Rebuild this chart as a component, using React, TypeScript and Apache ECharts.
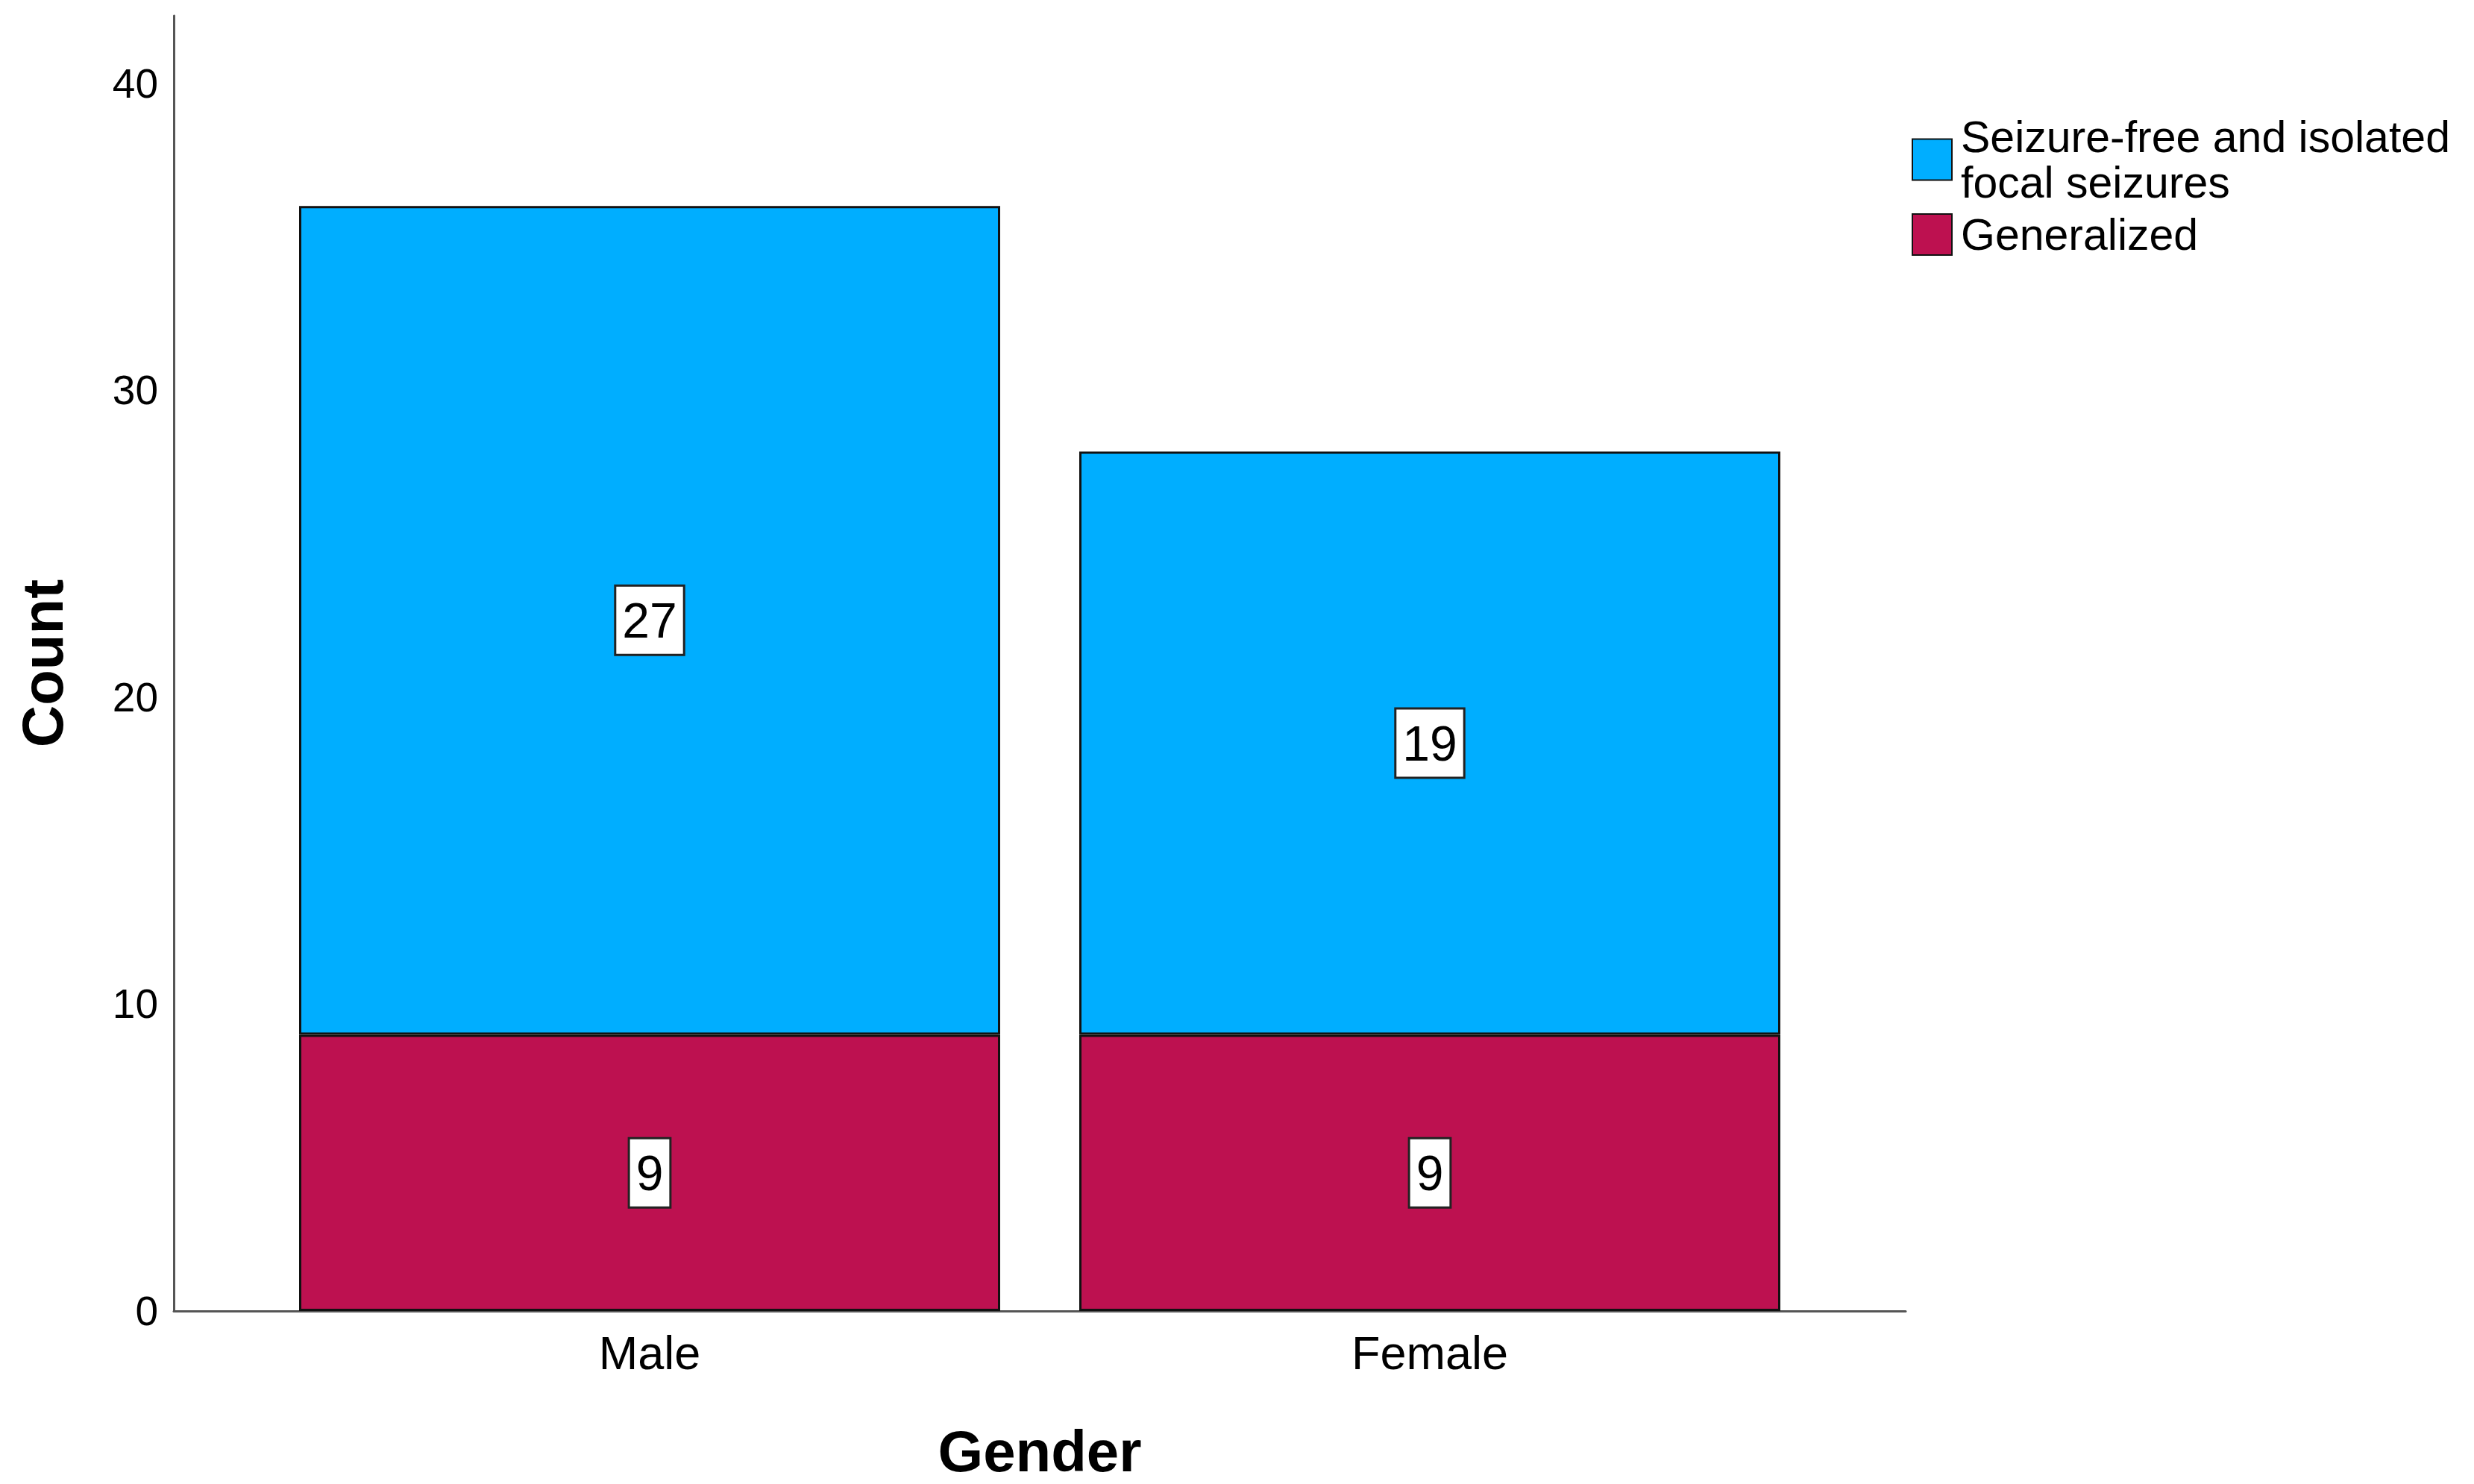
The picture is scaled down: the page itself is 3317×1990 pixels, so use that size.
import React, { useEffect, useRef } from "react";
import * as echarts from "echarts";

const categories = ["Male", "Female"];
const generalized = [9, 9];
const seizureFree = [27, 19];
const seriesNames = ["Seizure-free and isolated\nfocal seizures", "Generalized"];
const yTicks = [0, 10, 20, 30, 40];

export default function App() {
  const ref = useRef<HTMLDivElement>(null);
  useEffect(() => {
    const chart = echarts.init(ref.current!, null, { renderer: "svg" });
    const font = "'Liberation Sans', Arial, sans-serif";
    const labelStyle = {
      show: true,
      position: "inside",
      color: "#000",
      fontFamily: font,
      fontSize: 66,
      lineHeight: 68,
      backgroundColor: "#fff",
      borderColor: "#222",
      borderWidth: 3,
      padding: [12, 8, 10, 8],
    };
    const axisLineStyle = { show: true, lineStyle: { color: "#555", width: 3 } };
    chart.setOption({
      animation: false,
      backgroundColor: "#fff",
      grid: [
        { left: 233, right: 762, top: 21, bottom: 232, containLabel: false },
        { left: 348, right: 877, top: 21, bottom: 232, containLabel: false },
      ],
      legend: {
        orient: "vertical",
        left: 2558,
        top: 148,
        itemWidth: 53,
        itemHeight: 55,
        itemGap: 9,
        icon: "rect",
        data: [seriesNames[0], seriesNames[1]],
        textStyle: {
          fontFamily: font,
          fontSize: 59,
          lineHeight: 61,
          color: "#000",
          padding: [0, 0, 0, 7],
        },
      },
      xAxis: [
        {
          gridIndex: 0,
          type: "value",
          min: 0,
          max: 1,
          name: "Gender",
          nameLocation: "middle",
          nameGap: 149,
          nameTextStyle: { fontFamily: font, fontSize: 78, fontWeight: "bold", color: "#000" },
          axisLine: axisLineStyle,
          axisTick: { show: false },
          splitLine: { show: false },
          axisLabel: { show: false },
        },
        {
          gridIndex: 1,
          type: "category",
          data: categories,
          axisLine: { show: false },
          axisTick: { show: false },
          splitLine: { show: false },
          axisLabel: {
            fontFamily: font,
            fontSize: 63,
            color: "#000",
            margin: 24,
          },
        },
      ],
      yAxis: [
        {
          gridIndex: 0,
          type: "value",
          min: 0,
          max: 42.2,
          interval: 10,
          name: "Count",
          nameLocation: "middle",
          nameRotate: 90,
          nameGap: 137,
          nameTextStyle: { fontFamily: font, fontSize: 78, fontWeight: "bold", color: "#000" },
          axisLine: axisLineStyle,
          axisTick: { show: false },
          splitLine: { show: false },
          axisLabel: {
            showMaxLabel: false,
            formatter: (v: number) => (yTicks.includes(v) ? String(v) : ""),
            fontFamily: font,
            fontSize: 55,
            color: "#000",
            margin: 21,
          },
        },
        {
          gridIndex: 1,
          type: "value",
          min: 0,
          max: 42.2,
          show: false,
          splitLine: { show: false },
        },
      ],
      series: [
        {
          name: seriesNames[1],
          type: "bar",
          xAxisIndex: 1,
          yAxisIndex: 1,
          stack: "total",
          barWidth: 940,
          data: generalized,
          itemStyle: { color: "#BD1150", borderColor: "#111", borderWidth: 3 },
          label: labelStyle,
        },
        {
          name: seriesNames[0],
          type: "bar",
          xAxisIndex: 1,
          yAxisIndex: 1,
          stack: "total",
          barWidth: 940,
          data: seizureFree,
          itemStyle: { color: "#00AEFF", borderColor: "#111", borderWidth: 3 },
          label: labelStyle,
        },
      ],
    });
    return () => chart.dispose();
  }, []);
  return (
    <div
      ref={ref}
      style={{ position: "fixed", left: 0, top: 0, width: 3317, height: 1990 }}
    />
  );
}
